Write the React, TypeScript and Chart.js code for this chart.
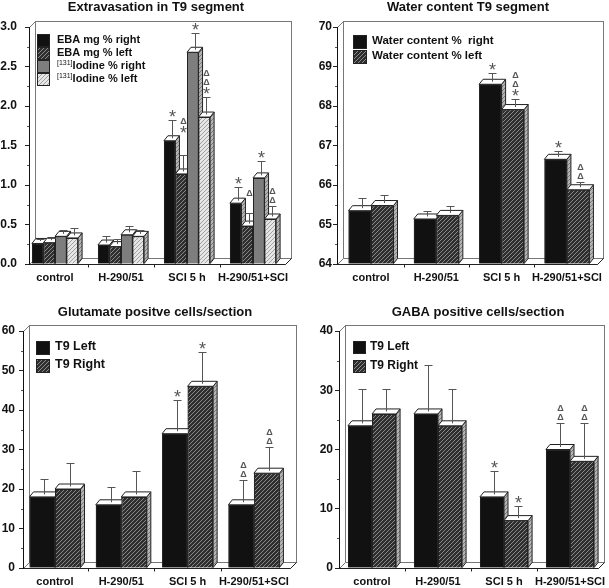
import React, { useEffect, useRef } from 'react';
import { Chart, registerables } from 'chart.js';

Chart.register(...registerables);

const FONT = '"Liberation Sans", Arial, Helvetica, sans-serif';
Chart.defaults.font.family = FONT;

// ---------- data ----------
const categories = ['control', 'H-290/51', 'SCI 5 h', 'H-290/51+SCI'];

// Extravasation in T9 segment
const ebaRight = [0.26, 0.24, 1.56, 0.77];
const ebaRightErr = [0.06, 0.12, 0.26, 0.21];
const ebaRightMarks = ['', '', '*', '*'];
const ebaLeft = [0.27, 0.22, 1.14, 0.48];
const ebaLeftErr = [0.06, 0.1, 0.24, 0.16];
const ebaLeftMarks = ['', '', '*Δ', 'Δ'];
const iodineRight = [0.35, 0.37, 2.68, 1.09];
const iodineRightErr = [0.08, 0.11, 0.24, 0.21];
const iodineRightMarks = ['', '', '*', '*'];
const iodineLeft = [0.33, 0.35, 1.86, 0.57];
const iodineLeftErr = [0.12, 0.08, 0.25, 0.17];
const iodineLeftMarks = ['', '', '*ΔΔ', 'ΔΔ'];
const extravasationTicks = [0, 0.5, 1, 1.5, 2, 2.5, 3];

// Water content T9 segment
const waterRight = [65.35, 65.14, 68.55, 66.65];
const waterRightErr = [0.31, 0.21, 0.29, 0.22];
const waterRightMarks = ['', '', '*', '*'];
const waterLeft = [65.48, 65.23, 67.91, 65.88];
const waterLeftErr = [0.27, 0.24, 0.26, 0.19];
const waterLeftMarks = ['', '', '*ΔΔ', 'ΔΔ'];
const waterTicks = [64, 65, 66, 67, 68, 69, 70];

// Glutamate positive cells/section
const glutamateLeft = [18, 16, 34, 16];
const glutamateLeftErr = [4.6, 4.6, 8.5, 6.4];
const glutamateLeftMarks = ['', '', '*', 'ΔΔ'];
const glutamateRight = [20, 18, 46, 24];
const glutamateRightErr = [6.5, 6.5, 8.8, 6.6];
const glutamateRightMarks = ['', '', '*', 'ΔΔ'];
const glutamateTicks = [0, 10, 20, 30, 40, 50, 60];

// GABA positive cells/section
const gabaLeft = [24, 26, 12, 20];
const gabaLeftErr = [6.2, 8.3, 4.3, 4.4];
const gabaLeftMarks = ['', '', '*', 'ΔΔ'];
const gabaRight = [26, 24, 8, 18];
const gabaRightErr = [4.2, 6.2, 2.4, 6.4];
const gabaRightMarks = ['', '', '*', 'ΔΔ'];
const gabaTicks = [0, 10, 20, 30, 40];

// ---------- panel layout ----------
const panels: any[] = [
  {
    key: 'a', x: 0, y: 0, w: 305, h: 294,
    area: { l: 29, t: 27, r: 285, b: 264 },
    firstCenter: 55, spacing: 66, groupPct: 0.7,
    title: 'Extravasation in T9 segment', titleX: 156, titleY: 7,
    ticks: extravasationTicks, minor: 0.25, decimals: 1, tickPad: 8,
    labelY: 277,
    legend: { box: 12, bx: 37, tx: 57, rows: [40, 53, 66, 79], font: 11 },
    series: [
      { label: 'EBA mg % right', data: ebaRight, err: ebaRightErr, marks: ebaRightMarks, fill: 'black' },
      { label: 'EBA mg % left', data: ebaLeft, err: ebaLeftErr, marks: ebaLeftMarks, fill: 'dark', lift: [0, 0, 19, 14] },
      { sup: '[131]', label: 'Iodine % right', data: iodineRight, err: iodineRightErr, marks: iodineRightMarks, fill: 'grey' },
      { sup: '[131]', label: 'Iodine % left', data: iodineLeft, err: iodineLeftErr, marks: iodineLeftMarks, fill: 'light' },
    ],
  },
  {
    key: 'b', x: 305, y: 0, w: 304, h: 294,
    area: { l: 32, t: 27, r: 292, b: 264 },
    firstCenter: 66, spacing: 65.3, groupPct: 0.69,
    title: 'Water content T9 segment', titleX: 163, titleY: 7,
    ticks: waterTicks, minor: 0.5, decimals: 0, tickPad: 1,
    labelY: 277,
    legend: { box: 13, bx: 48, tx: 67, rows: [41, 56], font: 11.5 },
    series: [
      { label: 'Water content %  right', data: waterRight, err: waterRightErr, marks: waterRightMarks, fill: 'black' },
      { label: 'Water content % left', data: waterLeft, err: waterLeftErr, marks: waterLeftMarks, fill: 'dark' },
    ],
  },
  {
    key: 'c', x: 0, y: 294, w: 305, h: 294,
    area: { l: 23, t: 37, r: 290, b: 274 },
    firstCenter: 55, spacing: 66.3, groupPct: 0.77,
    title: 'Glutamate positve cells/section', titleX: 155, titleY: 18,
    ticks: glutamateTicks, minor: 5, decimals: 0, tickPad: 4,
    labelY: 287,
    legend: { box: 13, bx: 36, tx: 55, rows: [53, 71], font: 12.5 },
    series: [
      { label: 'T9 Left', data: glutamateLeft, err: glutamateLeftErr, marks: glutamateLeftMarks, fill: 'black' },
      { label: 'T9 Right', data: glutamateRight, err: glutamateRightErr, marks: glutamateRightMarks, fill: 'dark' },
    ],
  },
  {
    key: 'd', x: 305, y: 294, w: 304, h: 294,
    area: { l: 34, t: 37, r: 293, b: 274 },
    firstCenter: 67, spacing: 66, groupPct: 0.73,
    title: 'GABA positive cells/section', titleX: 173, titleY: 18,
    ticks: gabaTicks, minor: 5, decimals: 0, tickPad: 2,
    labelY: 287,
    legend: { box: 12, bx: 48, tx: 65, rows: [53, 72], font: 12 },
    series: [
      { label: 'T9 Left', data: gabaLeft, err: gabaLeftErr, marks: gabaLeftMarks, fill: 'black' },
      { label: 'T9 Right', data: gabaRight, err: gabaRightErr, marks: gabaRightMarks, fill: 'dark' },
    ],
  },
];

// ---------- helpers ----------
function makeHatch(bg: string, fg: string, size = 4): any {
  const c = document.createElement('canvas');
  c.width = size;
  c.height = size;
  const x = c.getContext('2d') as CanvasRenderingContext2D;
  x.fillStyle = bg;
  x.fillRect(0, 0, size, size);
  x.strokeStyle = fg;
  x.lineWidth = 1;
  x.beginPath();
  x.moveTo(0, size);
  x.lineTo(size, 0);
  x.moveTo(-1, 1);
  x.lineTo(1, -1);
  x.moveTo(size - 1, size + 1);
  x.lineTo(size + 1, size - 1);
  x.stroke();
  return x.createPattern(c, 'repeat');
}

function fills() {
  return {
    black: '#111111',
    dark: makeHatch('#2e2e2e', '#8a8a8a'),
    grey: '#7e7e7e',
    light: makeHatch('#e6e6e6', '#a0a0a0'),
    side: makeHatch('#b4b4b4', '#7a7a7a'),
  } as any;
}

function drawCentered(ctx: CanvasRenderingContext2D, s: string, x: number, cy: number) {
  const m = ctx.measureText(s);
  const asc = m.actualBoundingBoxAscent;
  const desc = m.actualBoundingBoxDescent;
  ctx.fillText(s, x, cy - (desc - asc) / 2);
}

const BAR_DX = 4;
const BAR_DY = 5;
const FRAME_D = 6;

function makePlugin(p: any, f: any) {
  return {
    id: 'depth3d',
    beforeDraw(chart: any) {
      const { ctx, chartArea: a } = chart;
      const l = Math.round(a.left) + 0.5;
      const t = Math.round(a.top) + 0.5;
      const r = Math.round(a.right) + 0.5;
      const b = Math.round(a.bottom) + 0.5;
      const d = FRAME_D;
      ctx.save();
      ctx.fillStyle = '#ffffff';
      ctx.fillRect(0, 0, chart.width, chart.height);
      ctx.lineWidth = 1;
      // back wall
      ctx.strokeStyle = '#777';
      ctx.strokeRect(l + d, t - d, r - l, b - t);
      // connector at the top of the axis
      ctx.beginPath();
      ctx.moveTo(l, t);
      ctx.lineTo(l + d, t - d);
      ctx.stroke();
      // floor
      ctx.fillStyle = '#ffffff';
      ctx.beginPath();
      ctx.moveTo(l, b);
      ctx.lineTo(r, b);
      ctx.lineTo(r + d, b - d);
      ctx.lineTo(l + d, b - d);
      ctx.closePath();
      ctx.fill();
      ctx.strokeStyle = '#777';
      ctx.stroke();
      ctx.strokeStyle = '#222';
      ctx.beginPath();
      ctx.moveTo(l, b);
      ctx.lineTo(r, b);
      ctx.lineTo(r + d, b - d);
      ctx.stroke();
      // floor ticks between groups
      const xs = chart.scales.x;
      for (let i = 0; i < categories.length - 1; i++) {
        const px = Math.round(xs.getPixelForValue(i + 0.5)) + 0.5;
        ctx.beginPath();
        ctx.moveTo(px, b);
        ctx.lineTo(px, b + 3);
        ctx.stroke();
      }
      ctx.restore();
    },
    afterDatasetsDraw(chart: any) {
      const { ctx } = chart;
      const n = chart.data.datasets.length;
      const ys = chart.scales.y;
      ctx.save();
      ctx.lineWidth = 1;
      ctx.strokeStyle = '#222';
      for (let j = 0; j < categories.length; j++) {
        for (let i = 0; i < n; i++) {
          const el = chart.getDatasetMeta(i).data[j];
          const q = el.getProps(['x', 'y', 'base', 'width'], true);
          const l = q.x - q.width / 2;
          const r = q.x + q.width / 2;
          // side face
          ctx.fillStyle = f.side;
          ctx.beginPath();
          ctx.moveTo(r, q.base);
          ctx.lineTo(r + BAR_DX, q.base - BAR_DY);
          ctx.lineTo(r + BAR_DX, q.y - BAR_DY);
          ctx.lineTo(r, q.y);
          ctx.closePath();
          ctx.fill();
          ctx.stroke();
          // top face
          ctx.fillStyle = '#ffffff';
          ctx.beginPath();
          ctx.moveTo(l, q.y);
          ctx.lineTo(l + BAR_DX, q.y - BAR_DY);
          ctx.lineTo(r + BAR_DX, q.y - BAR_DY);
          ctx.lineTo(r, q.y);
          ctx.closePath();
          ctx.fill();
          ctx.stroke();
          // front face again, drawn by the element itself
          el.draw(ctx);
        }
      }
      // error bars and significance marks
      for (let i = 0; i < n; i++) {
        const s = p.series[i];
        const meta = chart.getDatasetMeta(i);
        for (let j = 0; j < categories.length; j++) {
          const el = meta.data[j];
          const q = el.getProps(['x', 'y', 'width'], true);
          const cx = Math.round(q.x + BAR_DX / 2) + 0.5;
          const y0 = q.y - BAR_DY / 2;
          const capY = Math.round(ys.getPixelForValue(s.data[j] + s.err[j])) + 0.5;
          ctx.strokeStyle = '#555';
          ctx.beginPath();
          ctx.moveTo(cx, y0);
          ctx.lineTo(cx, capY);
          ctx.moveTo(cx - 4, capY);
          ctx.lineTo(cx + 4, capY);
          ctx.stroke();
          const marks = Array.from(s.marks[j] || '');
          let my = capY - 7 - ((s.lift && s.lift[j]) || 0);
          ctx.fillStyle = '#555';
          ctx.textAlign = 'center';
          ctx.textBaseline = 'alphabetic';
          for (const m of marks) {
            if (m === '*') {
              ctx.font = `18px ${FONT}`;
            } else {
              ctx.font = `bold 9px ${FONT}`;
            }
            drawCentered(ctx, m as string, cx, my);
            my -= 9;
          }
        }
      }
      ctx.restore();
    },
    afterDraw(chart: any) {
      const { ctx, chartArea: a } = chart;
      const ys = chart.scales.y;
      ctx.save();
      // minor ticks
      ctx.strokeStyle = '#555';
      ctx.lineWidth = 1;
      const lo = p.ticks[0];
      const hi = p.ticks[p.ticks.length - 1];
      for (let v = lo; v <= hi + 1e-9; v += p.minor) {
        if (p.ticks.some((t: number) => Math.abs(t - v) < 1e-9)) continue;
        const py = Math.round(ys.getPixelForValue(v)) + 0.5;
        ctx.beginPath();
        ctx.moveTo(Math.round(a.left) - 2, py);
        ctx.lineTo(Math.round(a.left), py);
        ctx.stroke();
      }
      // title
      ctx.fillStyle = '#111';
      ctx.font = `bold 13px ${FONT}`;
      ctx.textAlign = 'center';
      ctx.textBaseline = 'middle';
      ctx.fillText(p.title, p.titleX, p.titleY);
      // legend
      const lg = p.legend;
      p.series.forEach((s: any, i: number) => {
        const cy = lg.rows[i];
        const by = Math.round(cy - lg.box / 2) + 0.5;
        ctx.fillStyle = f[s.fill];
        ctx.fillRect(lg.bx + 0.5, by, lg.box, lg.box);
        ctx.strokeStyle = '#222';
        ctx.strokeRect(lg.bx + 0.5, by, lg.box, lg.box);
        ctx.fillStyle = '#111';
        ctx.textAlign = 'left';
        ctx.textBaseline = 'middle';
        let tx = lg.tx;
        if (s.sup) {
          ctx.font = `7px ${FONT}`;
          ctx.fillText(s.sup, tx, cy - 3);
          tx += ctx.measureText(s.sup).width;
        }
        ctx.font = `bold ${lg.font}px ${FONT}`;
        ctx.fillText(s.label, tx, cy);
      });
      ctx.restore();
    },
  };
}

function Panel({ p }: { p: any }) {
  const ref = useRef<HTMLCanvasElement | null>(null);
  useEffect(() => {
    const canvas = ref.current as HTMLCanvasElement;
    const f = fills();
    const a = p.area;
    const xmin = -(p.firstCenter - a.l) / p.spacing;
    const lastCenter = p.firstCenter + p.spacing * (categories.length - 1);
    const xmax = categories.length - 1 + (a.r - lastCenter) / p.spacing;
    const chart = new Chart(canvas, {
      type: 'bar',
      data: {
        datasets: p.series.map((s: any) => ({
          label: s.label,
          data: s.data.map((v: number, i: number) => ({ x: i, y: v })),
          backgroundColor: f[s.fill],
          borderColor: '#222',
          borderWidth: 1,
          base: p.ticks[0],
          categoryPercentage: p.groupPct,
          barPercentage: 1,
        })),
      },
      options: {
        responsive: false,
        animation: false,
        events: [],
        layout: { padding: { top: a.t, right: p.w - a.r, left: 0, bottom: 0 } },
        plugins: {
          legend: { display: false },
          title: { display: false },
          tooltip: { enabled: false },
        },
        scales: {
          x: {
            type: 'linear',
            min: xmin,
            max: xmax,
            offset: false,
            afterBuildTicks: (ax: any) => {
              ax.ticks = categories.map((_, i) => ({ value: i }));
            },
            afterFit: (ax: any) => {
              ax.height = p.h - a.b;
              ax.paddingLeft = 0;
              ax.paddingRight = 0;
            },
            grid: { display: false, drawTicks: false },
            border: { display: false },
            ticks: {
              autoSkip: false,
              maxRotation: 0,
              padding: p.labelY - a.b - 5.5,
              color: '#111',
              font: { size: 11, weight: 'bold' },
              callback: (v: any) => categories[v] ?? '',
            },
          },
          y: {
            min: p.ticks[0],
            max: p.ticks[p.ticks.length - 1],
            beginAtZero: false,
            afterBuildTicks: (ax: any) => {
              ax.ticks = p.ticks.map((v: number) => ({ value: v }));
            },
            afterFit: (ax: any) => {
              ax.width = a.l;
              ax.paddingTop = 0;
              ax.paddingBottom = 0;
            },
            grid: { drawOnChartArea: false, tickLength: 4, color: '#222' },
            border: { display: true, color: '#111' },
            ticks: {
              padding: p.tickPad,
              color: '#111',
              font: { size: 12, weight: 'bold' },
              callback: (v: any) => Number(v).toFixed(p.decimals),
            },
          },
        },
      } as any,
      plugins: [makePlugin(p, f)],
    });
    return () => chart.destroy();
  }, []);
  return (
    <canvas
      ref={ref}
      width={p.w}
      height={p.h}
      style={{ position: 'absolute', left: p.x, top: p.y, width: p.w, height: p.h }}
    />
  );
}

export default function App() {
  return (
    <div style={{ position: 'absolute', left: 0, top: 0, width: 609, height: 588, background: '#fff' }}>
      {panels.map((p) => (
        <Panel key={p.key} p={p} />
      ))}
    </div>
  );
}
